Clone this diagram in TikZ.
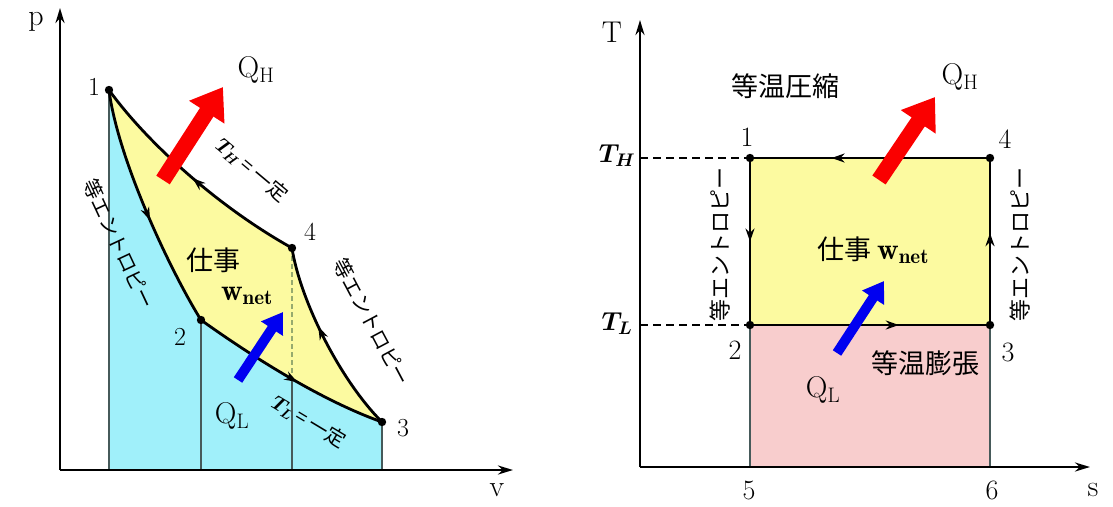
\RequirePackage{fix-cm}
\documentclass[tikz,border=0pt]{standalone}
\usepackage{bm}
\usepackage{fontspec}
\newfontfamily\jp{Noto Sans CJK JP}
\usetikzlibrary{arrows.meta,decorations.markings}
\definecolor{cyanfill}{RGB}{160,240,250}
\definecolor{yellowfill}{RGB}{252,250,160}
\definecolor{pinkfill}{RGB}{248,205,205}
\definecolor{bigred}{RGB}{250,0,0}
\definecolor{bigblue}{RGB}{0,0,240}
\definecolor{vgray}{RGB}{70,90,90}
\definecolor{dgreen}{RGB}{150,170,110}
\begin{document}
\begin{tikzpicture}[x=1pt,y=-1pt,
  curve/.style={line width=2.8pt},
  vline/.style={line width=1.2pt, vgray},
  midarrow/.style={postaction={decorate,decoration={markings,mark=at position #1 with {\arrow{Stealth[length=13pt,width=9pt]}}}}},
  lbl/.style={font=\fontsize{26}{28}\selectfont, inner sep=0pt},
  biglbl/.style={font=\fontsize{28}{30}\selectfont, inner sep=0pt},
  axlbl/.style={font=\fontsize{30}{32}\selectfont, inner sep=0pt},
  qlbl/.style={font=\fontsize{30}{32}\selectfont, inner sep=0pt},
  jplbl/.style={font=\jp\fontsize{27}{29}\selectfont, inner sep=0pt},
  rotjp/.style={font=\jp\fontsize{20}{22}\selectfont, inner sep=0pt},
  vrotjp/.style={font=\jp\fontsize{22}{24}\selectfont, inner sep=0pt},
  isolbl/.style={font=\jp\fontsize{20}{22}\selectfont, inner sep=0pt},
  hot/.style={bigred, line width=16pt, -{Triangle[width=40pt,length=30pt]}},
  cold/.style={bigblue, line width=10pt, -{Triangle[width=25pt,length=20pt]}},
  axis/.style={line width=2.5pt, -{Stealth[length=15pt,width=9pt]}},
  dashline/.style={line width=2pt, dash pattern=on 8pt off 5pt},
]
\useasboundingbox (0,0) rectangle (1113,506);

% ===== left: p-v diagram =====
\coordinate (O1) at (60,470);
\coordinate (ptop) at (60,8);
\coordinate (vend) at (513,470);
\coordinate (p1) at (109,90);
\coordinate (p2) at (201,320);
\coordinate (p3) at (382,422);
\coordinate (p4) at (292,248);
\coordinate (m4) at (292,378);
\coordinate (f1) at (109,470);
\coordinate (f2) at (201,470);
\coordinate (f3) at (292,470);
\coordinate (f4) at (382,470);

\fill[cyanfill] (f1) -- (p1) .. controls (118,160) and (170,270) .. (p2)
  .. controls (250,355) and (320,400) .. (p3) -- (f4) -- cycle;
\fill[yellowfill] (p1) .. controls (118,160) and (170,270) .. (p2)
  .. controls (250,355) and (320,400) .. (p3)
  .. controls (340,380) and (300,300) .. (p4)
  .. controls (215,205) and (145,140) .. (p1) -- cycle;

\draw[vline] (p1) -- (f1);
\draw[vline] (p2) -- (f2);
\draw[vline] (m4) -- (f3);
\draw[vline] (p3) -- (f4);
\draw[line width=1.2pt, dgreen, dash pattern=on 5pt off 3pt] (p4) -- (m4);

\draw[curve, midarrow=0.55] (p1) .. controls (118,160) and (170,270) .. (p2);
\draw[curve, midarrow=0.55] (p2) .. controls (250,355) and (320,400) .. (p3);
\draw[curve, midarrow=0.58] (p3) .. controls (340,380) and (300,300) .. (p4);
\draw[curve, midarrow=0.5] (p4) .. controls (215,205) and (145,140) .. (p1);

\draw[axis] (O1) -- (ptop);
\draw[axis] (O1) -- (vend);

\foreach \p in {p1,p2,p3,p4} \fill (\p) circle (4.2);

\node[axlbl] (plab) at (36,22) {p};
\node[axlbl] (vlab) at (497,490) {v};
\node[lbl] (n1) at (94,87) {1};
\node[lbl] (n2) at (180,337) {2};
\node[lbl] (n3) at (403,428) {3};
\node[lbl] (n4) at (310,232) {4};

\coordinate (rt1) at (163,180);
\coordinate (rh1) at (223,87);
\draw[hot] (rt1) -- (rh1);
\coordinate (bt1) at (238,380);
\coordinate (bh1) at (283,312);
\draw[cold] (bt1) -- (bh1);

\node[qlbl] (qh1) at (256,70) {$\mathrm{Q}_{\mathrm{H}}$};
\node[qlbl] (ql1) at (232,416) {$\mathrm{Q}_{\mathrm{L}}$};
\node[jplbl] (work1) at (213,260) {仕事};
\node[qlbl] (wnet1) at (247,296) {$\mathbf{w}_{\mathbf{net}}$};

\node[isolbl, rotate=-40] (th1) at (252,170) {$\bm{T_H}$\,= 一定};
\node[isolbl, rotate=-31] (tl1) at (309,422) {$\bm{T_L}$\,= 一定};
\node[rotjp, rotate=-65] (is1) at (119,244) {等エントロピー};
\node[rotjp, rotate=-62] (is2) at (372,322) {等エントロピー};

% ===== right: T-s diagram =====
\coordinate (O2) at (640,467);
\coordinate (Ttop) at (640,20);
\coordinate (send) at (1090,467);
\coordinate (q1) at (750,158);
\coordinate (q4) at (990,158);
\coordinate (q2) at (750,325);
\coordinate (q3) at (990,325);
\coordinate (g5) at (750,467);
\coordinate (g6) at (990,467);
\coordinate (tH) at (640,158);
\coordinate (tL) at (640,325);

\fill[pinkfill] (q2) rectangle (g6);
\fill[yellowfill] (q1) rectangle (q3);
\draw[vline] (q2) -- (g5);
\draw[vline] (q3) -- (g6);
\draw[dashline] (tH) -- (q1);
\draw[dashline] (tL) -- (q2);

\draw[curve, midarrow=0.66] (q4) -- (q1);
\draw[curve, midarrow=0.5] (q1) -- (q2);
\draw[curve, midarrow=0.62] (q2) -- (q3);
\draw[curve, midarrow=0.55] (q3) -- (q4);

\draw[axis] (O2) -- (Ttop);
\draw[axis] (O2) -- (send);

\foreach \p in {q1,q2,q3,q4} \fill (\p) circle (4.2);

\node[axlbl] (Tlab) at (612,32) {T};
\node[axlbl] (slab) at (1093,490) {s};
\node[lbl] (THlab) at (617,156) {$\bm{T_H}$};
\node[lbl] (TLlab) at (617,324) {$\bm{T_L}$};
\node[biglbl] (r1) at (747,137) {1};
\node[biglbl] (r4) at (1005,139) {4};
\node[biglbl] (r2) at (735,350) {2};
\node[biglbl] (r3) at (1008,352) {3};
\node[biglbl] (r5) at (749,490) {5};
\node[biglbl] (r6) at (992,490) {6};

\coordinate (rt2) at (879,180);
\coordinate (rh2) at (935,97);
\draw[hot] (rt2) -- (rh2);
\coordinate (bt2) at (837,353);
\coordinate (bh2) at (884,281);
\draw[cold] (bt2) -- (bh2);

\node[jplbl] (comp) at (785,86) {等温圧縮};
\node[qlbl] (qh2) at (960,77) {$\mathrm{Q}_{\mathrm{H}}$};
\node[jplbl] (work2) at (873,250) {仕事 {\rmfamily\fontsize{30}{32}\selectfont$\mathbf{w}_{\mathbf{net}}$}};
\node[jplbl] (expn) at (925,363) {等温膨張};
\node[qlbl] (ql2) at (823,390) {$\mathrm{Q}_{\mathrm{L}}$};
\node[vrotjp, rotate=90] (is3) at (720,244) {等エントロピー};
\node[vrotjp, rotate=90] (is4) at (1020,244) {等エントロピー};
\end{tikzpicture}
\end{document}
